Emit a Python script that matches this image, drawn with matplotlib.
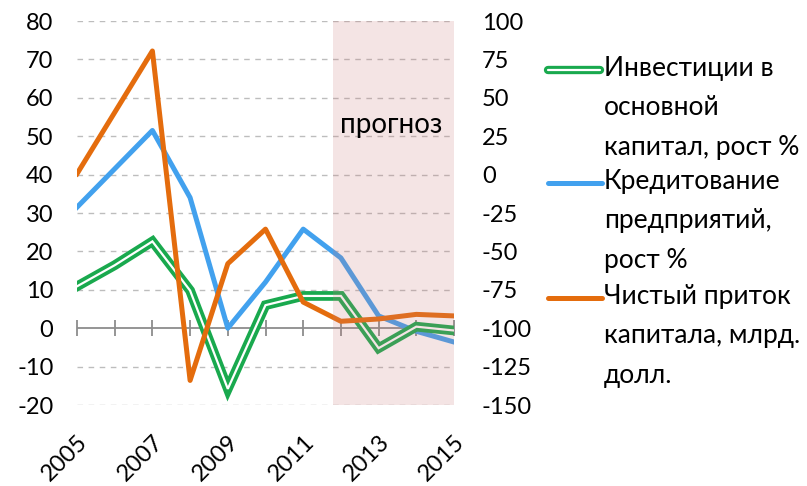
import matplotlib.pyplot as plt
from matplotlib.lines import Line2D

plt.rcParams['font.family'] = ['Lato', 'DejaVu Sans']
plt.rcParams['axes.unicode_minus'] = False

years = [2005, 2006, 2007, 2008, 2009, 2010, 2011, 2012, 2013, 2014, 2015]
invest = [10.9, 16.4, 22.6, 9.8, -15.8, 6.0, 8.4, 8.4, -5.2, 0.4, -0.6]
credit = [31.5, 41.5, 51.5, 34.0, 0.0, 12.0, 25.8, 18.3, 3.2, -0.8, -3.6]
capital = [0.5, 40.5, 80.5, -134.0, -58.0, -35.5, -83.0, -95.5, -94.0, -91.0, -92.0]
x_labels = [2005, 2007, 2009, 2011, 2013, 2015]
forecast_from = 2011.8

green = '#19a94e'
blue = '#42a1ee'
orange = '#e46c0d'
fs = 17

fig = plt.figure(figsize=(8.07, 4.86), dpi=100)
ax = fig.add_axes([77/807, 1-405/486, (454-77)/807, (405-21)/486])
ax2 = ax.twinx()

ax.set_xlim(2005, 2015)
ax.set_ylim(-20, 80)
ax2.set_ylim(-150, 100)
ax.set_yticks(range(-20, 81, 10))
ax2.set_yticks(range(-150, 101, 25))

for y in range(-20, 81, 10):
    if y != 0:
        ax.axhline(y, color='#bdbdbd', lw=1, ls=(0, (4, 4)), zorder=0)
ax.axhline(0, color='#8c8c8c', lw=1.3, zorder=1)

for s in ['top', 'right', 'left', 'bottom']:
    ax.spines[s].set_visible(False)
    ax2.spines[s].set_visible(False)

ax.spines['bottom'].set_position(('data', 0))
ax.set_xticks(years)
ax.tick_params(axis='x', direction='inout', length=12, width=1.3, color='#8c8c8c',
               labelbottom=False)
ax.tick_params(axis='y', length=0, labelsize=fs, pad=17)
ax2.tick_params(axis='y', length=0, labelsize=fs, pad=20)

sec = ax.secondary_xaxis('bottom')
sec.spines['bottom'].set_visible(False)
sec.set_xticks(x_labels, [str(v) for v in x_labels])
sec.tick_params(length=0, pad=19, labelsize=fs, labelrotation=45)
for lab in sec.get_xticklabels():
    lab.set_ha('right')
    lab.set_rotation_mode('anchor')

ax.plot(years, credit, color=blue, lw=3.6, zorder=3)
ax.plot(years, invest, color=green, lw=7, zorder=4, solid_joinstyle='miter')
ax.plot(years, invest, color='white', lw=1.6, zorder=5, solid_joinstyle='miter')
ax2.plot(years, capital, color=orange, lw=3.6, zorder=6)

ax2.axvspan(forecast_from, 2015, color='#c87878', alpha=0.2, lw=0, zorder=10)
ax2.text(2013.33, 32, 'прогноз', fontsize=20, ha='center', va='center', zorder=11)

# legend
entries = [
    (70, 'Инвестиции в\nосновной\nкапитал, рост %', 'green'),
    (183, 'Кредитование\nпредприятий,\nрост %', blue),
    (298, 'Чистый приток\nкапитала, млрд.\nдолл.', orange),
]
for ypx, label, col in entries:
    yf = 1 - ypx / 486
    if col == 'green':
        fig.add_artist(Line2D([548/807, 600/807], [yf, yf], color=green, lw=6,
                              solid_capstyle='round', transform=fig.transFigure))
        fig.add_artist(Line2D([548/807, 600/807], [yf, yf], color='white', lw=1.6,
                              solid_capstyle='round', transform=fig.transFigure))
    else:
        fig.add_artist(Line2D([548/807, 602/807], [yf, yf], color=col, lw=3.6,
                              solid_capstyle='round', transform=fig.transFigure))
    fig.text(604/807, yf + 14/486, label, fontsize=19, ha='left', va='top',
             linespacing=1.72)

fig.savefig('out.png', dpi=100)
